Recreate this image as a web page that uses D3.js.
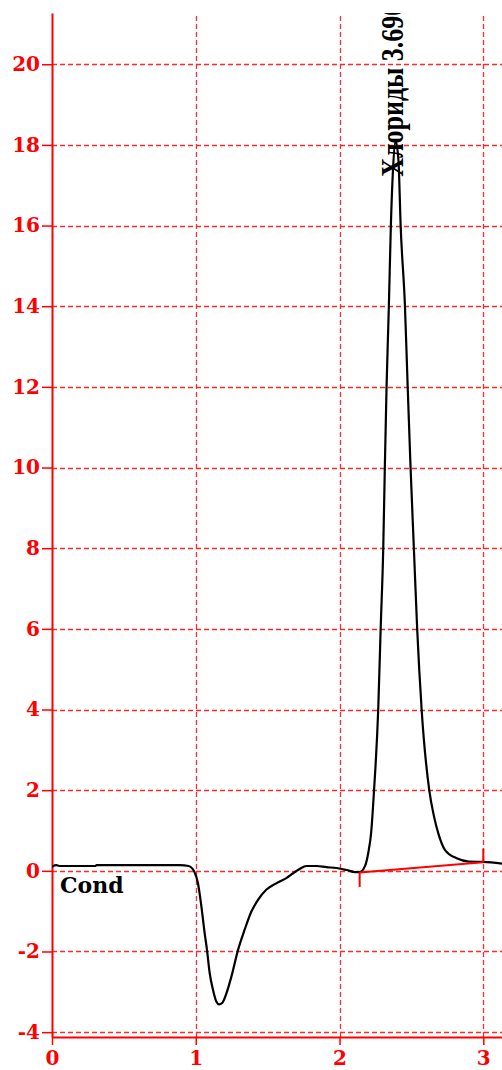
<!DOCTYPE html>
<html>
<head>
<meta charset="utf-8">
<script src="https://cdn.jsdelivr.net/npm/d3@7"></script>
<style>
  body { margin: 0; background: #fff; }
  svg { display: block; }
  text { font-family: "Liberation Serif", "Times New Roman", serif; font-weight: bold; }
</style>
</head>
<body>
<div id="chart"></div>
<script>
// chromatogram trace (time, signal)
var times = [0, 0.03, 0.05, 0.30, 0.31, 0.60, 0.89, 0.95, 0.99, 1.015, 1.039, 1.062, 1.078, 1.097, 1.12,
    1.143, 1.162, 1.185, 1.213, 1.248, 1.294, 1.34, 1.387, 1.433, 1.49, 1.56, 1.63, 1.677, 1.72, 1.77,
    1.84, 1.91, 1.98, 2.05, 2.107, 2.14, 2.176, 2.2, 2.22, 2.24, 2.269, 2.286, 2.304, 2.315, 2.327,
    2.343, 2.357, 2.372, 2.39, 2.41, 2.425, 2.455, 2.474, 2.494, 2.517, 2.54, 2.571, 2.624, 2.657,
    2.687, 2.733, 2.815, 2.9, 3.0, 3.13];
var signal = [0.10, 0.14, 0.12, 0.12, 0.14, 0.14, 0.14, 0.12, -0.02, -0.30, -0.88, -1.55, -1.96, -2.54, -2.95,
    -3.24, -3.31, -3.27, -3.04, -2.62, -1.96, -1.46, -1.01, -0.72, -0.47, -0.31, -0.18, -0.06, 0.04, 0.12,
    0.12, 0.09, 0.07, 0.02, -0.03, -0.03, 0.11, 0.45, 0.95, 2.0, 4.0, 6.0, 8.0, 10.0, 12.0,
    14.0, 16.0, 17.4, 18.1, 17.6, 16.0, 14.0, 12.0, 10.0, 8.0, 6.0, 4.0, 2.0, 1.35,
    0.93, 0.52, 0.31, 0.23, 0.22, 0.18];

// baseline under the peak
var baseTimes = [2.14, 3.0];
var baseValues = [-0.04, 0.21];
var baseTickEnds = [-0.40, 0.55];

var peakName = "Хлориды 3.690";
var peakTime = 2.39;
var peakValue = 18.1;
var traceName = "Cond";

var xTicks = [0, 1, 2, 3];
var yTicks = [-4, -2, 0, 2, 4, 6, 8, 10, 12, 14, 16, 18, 20];

var w = 502, h = 1070;
var red = "#ff0000";
var labelFont = "'DejaVu Serif', serif";

var xScale = d3.scaleLinear().domain([0, 3.13]).range([52, 502]);
var yScale = d3.scaleLinear().domain([-4.12, 21.27]).range([1037, 13]);

var svg = d3.select("#chart").append("svg")
    .attr("width", w)
    .attr("height", h);

svg.append("defs").append("clipPath").attr("id", "plot")
    .append("rect")
    .attr("x", xScale.range()[0])
    .attr("y", yScale.range()[1])
    .attr("width", xScale.range()[1] - xScale.range()[0])
    .attr("height", yScale.range()[0] - yScale.range()[1]);

// grid
var grid = svg.append("g").attr("stroke", "#ff2a2a").attr("stroke-width", 1.3).attr("stroke-dasharray", "5,3");
grid.selectAll("line.h")
    .data(yTicks)
    .enter().append("line")
    .attr("class", "h")
    .attr("x1", xScale.range()[0]).attr("x2", xScale.range()[1])
    .attr("y1", function(d) { return Math.round(yScale(d)) + 0.5; })
    .attr("y2", function(d) { return Math.round(yScale(d)) + 0.5; });
grid.selectAll("line.v")
    .data(xTicks.filter(function(d) { return d > 0; }))
    .enter().append("line")
    .attr("class", "v")
    .attr("y1", yScale.range()[0]).attr("y2", yScale.range()[1])
    .attr("x1", function(d) { return Math.round(xScale(d)) + 0.5; })
    .attr("x2", function(d) { return Math.round(xScale(d)) + 0.5; });

// axes
var yAxis = d3.axisLeft(yScale).tickValues(yTicks).tickSize(10).tickSizeOuter(0).tickPadding(2)
    .tickFormat(function(d) { return d < 0 ? "-" + (-d) : d; });
var xAxis = d3.axisBottom(xScale).tickValues(xTicks).tickSize(8).tickSizeOuter(0).tickPadding(6)
    .tickFormat(d3.format("d"));

var gy = svg.append("g").attr("transform", "translate(" + xScale.range()[0] + ",0)").call(yAxis);
var gx = svg.append("g").attr("transform", "translate(0," + yScale.range()[0] + ")").call(xAxis);

[gy, gx].forEach(function(g) {
    g.select(".domain").attr("stroke", red).attr("stroke-width", 2);
    g.selectAll(".tick line").attr("stroke", red).attr("stroke-width", 1.5);
    g.selectAll(".tick text")
        .attr("fill", red)
        .style("font-size", "20px")
        .style("font-family", labelFont)
        .style("font-weight", "bold");
});
// x labels sit on a baseline so they stay inside the picture
gx.selectAll(".tick text")
    .attr("y", 28)
    .attr("dy", null);

// trace
var plot = svg.append("g").attr("clip-path", "url(#plot)");

var pts = times.map(function(t, i) { return [t, signal[i]]; });
var line = d3.line()
    .x(function(d) { return xScale(d[0]); })
    .y(function(d) { return yScale(d[1]); })
    .curve(d3.curveMonotoneX);

plot.append("path")
    .datum(pts)
    .attr("fill", "none")
    .attr("stroke", "#000")
    .attr("stroke-width", 2.2)
    .attr("d", line);

// baseline + its end marks
var base = baseTimes.map(function(t, i) { return [t, baseValues[i]]; });
plot.append("path")
    .datum(base)
    .attr("fill", "none")
    .attr("stroke", red)
    .attr("stroke-width", 2)
    .attr("d", d3.line().x(function(d) { return xScale(d[0]); }).y(function(d) { return yScale(d[1]); }));

plot.selectAll("line.bt")
    .data(baseTimes)
    .enter().append("line")
    .attr("class", "bt")
    .attr("stroke", red)
    .attr("stroke-width", 2)
    .attr("x1", function(d) { return xScale(d); })
    .attr("x2", function(d) { return xScale(d); })
    .attr("y1", function(d, i) { return yScale(baseValues[i]); })
    .attr("y2", function(d, i) { return yScale(baseTickEnds[i]); });

// peak label (glyphs a bit taller across, like the original)
plot.append("text")
    .attr("transform", "translate(" + (xScale(peakTime) + 7) + "," + (yScale(peakValue) + 36) + ") rotate(-90) scale(1,1.2)")
    .attr("fill", "#000")
    .style("font-size", "26px")
    .text(peakName);

// trace name
svg.append("text")
    .attr("x", xScale(0) + 8)
    .attr("y", yScale(0) + 22)
    .attr("fill", "#000")
    .style("font-family", labelFont)
    .style("font-size", "22px")
    .text(traceName);
</script>
</body>
</html>
